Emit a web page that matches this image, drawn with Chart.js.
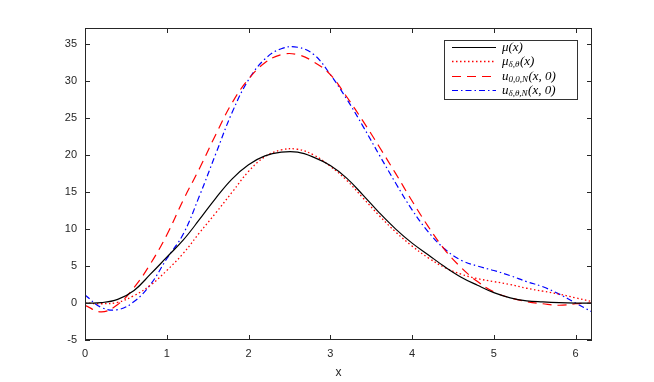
<!DOCTYPE html>
<html>
<head>
<meta charset="utf-8">
<script src="https://cdn.jsdelivr.net/npm/chart.js"></script>
<style>
  html, body { margin: 0; padding: 0; background: #fff; }
</style>
</head>
<body>
<canvas id="graph" width="654" height="382"></canvas>
<script>
const xs = [0, 0.2, 0.4, 0.6, 0.8, 1.0, 1.2, 1.4, 1.6, 1.8, 2.0, 2.2, 2.4, 2.6, 2.8, 3.0,
  3.2, 3.4, 3.6, 3.8, 4.0, 4.2, 4.4, 4.6, 4.8, 5.0, 5.2, 5.4, 5.6, 5.8, 6.0, 6.2];

const mu = [0, 0.05, 0.5, 1.7, 3.9, 6.2, 8.5, 11.3, 14.2, 16.8, 18.7, 19.9, 20.4, 20.4, 19.7, 18.6,
  16.9, 14.6, 12.2, 10.0, 8.1, 6.5, 4.9, 3.5, 2.4, 1.4, 0.7, 0.3, 0.15, 0.05, 0, 0];

const muDelta = [0, -0.1, 0.1, 1.0, 2.4, 4.4, 6.7, 9.5, 12.2, 15.0, 17.8, 19.8, 20.7, 20.8, 20.0, 18.5,
  16.6, 14.2, 11.8, 9.6, 7.7, 6.1, 4.8, 3.9, 3.3, 2.9, 2.5, 2.0, 1.6, 1.2, 0.7, 0.2];

const u00N = [-0.3, -1.2, -0.2, 2.1, 5.3, 9.2, 13.9, 18.2, 22.8, 27.1, 30.3, 32.5, 33.6, 33.6, 32.6, 30.9,
  27.9, 24.6, 21.1, 17.5, 13.8, 10.3, 7.2, 4.8, 2.9, 1.5, 0.7, 0.2, -0.1, -0.3, -0.1, 0];

const uDelta = [1.1, -0.6, -0.9, 0.2, 2.5, 6.0, 9.3, 14.5, 20.2, 25.8, 30.2, 33.0, 34.4, 34.6, 33.6, 30.9,
  27.6, 23.9, 20.0, 16.2, 12.6, 9.6, 7.3, 5.8, 5.0, 4.4, 3.7, 2.9, 2.2, 1.2, 0.0, -1.2];

// legend text pieces: base, subscript, tail
const legendBase = ['\u03bc', '\u03bc', 'u', 'u'];
const legendSub = ['', '\u03b4,\u03b8', '0,0,N', '\u03b4,\u03b8,N'];
const legendTail = ['(x)', '(x)', '(x, 0)', '(x, 0)'];

const xMin = 0, xMax = 6.2;
const yMin = -5, yMax = 37.2;

const axisColor = '#262626';

function pts(ys) {
  return xs.map((x, i) => ({ x: x, y: ys[i] }));
}

const frame = {
  id: 'frame',
  afterDatasetsDraw(chart) {
    const { ctx, chartArea: a, scales } = chart;
    ctx.save();
    ctx.strokeStyle = axisColor;
    ctx.lineWidth = 1;
    ctx.strokeRect(a.left + 0.5, a.top + 0.5, a.right - a.left - 1, a.bottom - a.top - 1);
    ctx.beginPath();
    for (const t of scales.x.ticks) {
      const px = Math.round(scales.x.getPixelForValue(t.value)) + 0.5;
      ctx.moveTo(px, a.bottom); ctx.lineTo(px, a.bottom - 5);
      ctx.moveTo(px, a.top); ctx.lineTo(px, a.top + 5);
    }
    for (const t of scales.y.ticks) {
      const py = Math.round(scales.y.getPixelForValue(t.value)) + 0.5;
      ctx.moveTo(a.left, py); ctx.lineTo(a.left + 5, py);
      ctx.moveTo(a.right, py); ctx.lineTo(a.right - 5, py);
    }
    ctx.stroke();

    // legend box
    const bx = 444, by = 40, bw = 133, bh = 59;
    ctx.fillStyle = '#fff';
    ctx.fillRect(bx, by, bw, bh);
    ctx.strokeStyle = '#333';
    ctx.strokeRect(bx + 0.5, by + 0.5, bw, bh);
    const rows = [47.5, 61.5, 76.5, 90.5];
    chart.data.datasets.forEach((ds, i) => {
      const y = rows[i];
      ctx.strokeStyle = ds.borderColor;
      ctx.lineWidth = ds.borderWidth;
      ctx.setLineDash(ds.borderDash || []);
      ctx.beginPath();
      ctx.moveTo(452, y); ctx.lineTo(496, y);
      ctx.stroke();
      ctx.setLineDash([]);
      ctx.fillStyle = '#000';
      ctx.textBaseline = 'middle';
      let tx = 502;
      ctx.font = 'italic 13px "Liberation Serif"';
      ctx.fillText(legendBase[i], tx, y);
      tx += ctx.measureText(legendBase[i]).width;
      if (legendSub[i]) {
        ctx.font = 'italic 9px "Liberation Serif"';
        ctx.fillText(legendSub[i], tx, y + 3.5);
        tx += ctx.measureText(legendSub[i]).width + 0.5;
      }
      ctx.font = 'italic 13px "Liberation Serif"';
      ctx.fillText(legendTail[i], tx, y);
    });
    ctx.restore();
  }
};

new Chart(document.getElementById('graph'), {
  type: 'line',
  data: {
    datasets: [
      { label: 'mu', data: pts(mu), borderColor: '#000000', borderWidth: 1.2 },
      { label: 'mu delta', data: pts(muDelta), borderColor: '#ff0000', borderWidth: 1.3, borderDash: [1.5, 2.5] },
      { label: 'u00N', data: pts(u00N), borderColor: '#ff0000', borderWidth: 1.2, borderDash: [9, 6] },
      { label: 'uDelta', data: pts(uDelta), borderColor: '#0000ff', borderWidth: 1.2, borderDash: [6, 3, 1.5, 3] },
    ],
  },
  options: {
    responsive: false,
    animation: false,
    devicePixelRatio: 1,
    layout: { padding: { top: 28, right: 62, left: 0, bottom: 0 } },
    elements: {
      point: { radius: 0 },
      line: { tension: 0.4, fill: false },
    },
    plugins: {
      legend: { display: false },
      tooltip: { enabled: false },
    },
    scales: {
      x: {
        type: 'linear',
        min: xMin,
        max: xMax,
        grid: { display: false, drawTicks: false, tickLength: 0 },
        border: { display: false },
        ticks: {
          stepSize: 1,
          includeBounds: false,
          padding: 7,
          color: axisColor,
          font: { family: '"Liberation Sans"', size: 11 },
        },
        title: {
          display: true,
          text: 'x',
          color: axisColor,
          font: { family: '"Liberation Sans"', size: 12 },
          padding: { top: 0, bottom: 2 },
        },
        afterFit(scale) { scale.height = 42; },
      },
      y: {
        min: yMin,
        max: yMax,
        grid: { display: false, drawTicks: false, tickLength: 0 },
        border: { display: false },
        ticks: {
          stepSize: 5,
          includeBounds: false,
          padding: 8,
          color: axisColor,
          font: { family: '"Liberation Sans"', size: 11 },
        },
        afterFit(scale) { scale.width = 85; },
      },
    },
  },
  plugins: [frame],
});
</script>
</body>
</html>
